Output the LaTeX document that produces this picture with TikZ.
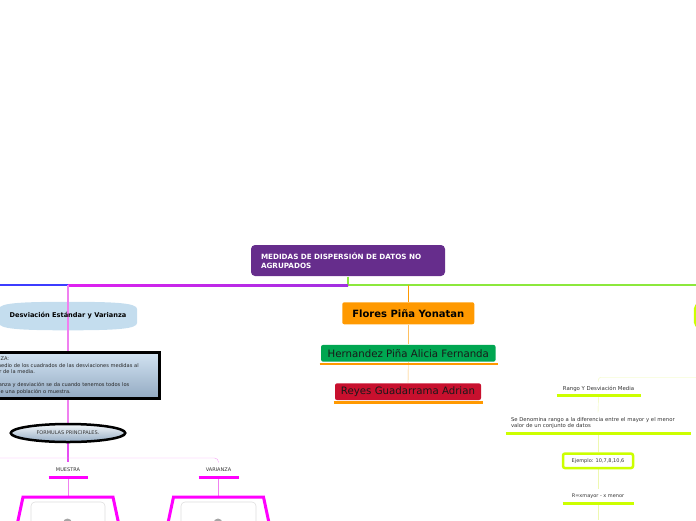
\documentclass[tikz,border=0pt]{standalone}
\usepackage{fontspec}
\setmainfont{DejaVu Sans}
\usetikzlibrary{shapes.geometric}
\usetikzlibrary{backgrounds}

\definecolor{rootpurple}{HTML}{662D8C}
\definecolor{lineblue}{HTML}{3C3CFF}
\definecolor{linemag}{HTML}{E020F0}
\definecolor{linepurple}{HTML}{A030E0}
\definecolor{linepink}{HTML}{F080F0}
\definecolor{lightpink}{HTML}{F4A0F4}
\definecolor{hotmag}{HTML}{FF00FF}
\definecolor{linegreen}{HTML}{8CE83C}
\definecolor{florange}{HTML}{FF9900}
\definecolor{paleorange}{HTML}{FFC060}
\definecolor{hergreen}{HTML}{00A651}
\definecolor{reyred}{HTML}{C8102E}
\definecolor{ygreen}{HTML}{CCFF00}
\definecolor{paleyg}{HTML}{EEF8B0}
\definecolor{desvblue}{HTML}{C4DDEE}
\definecolor{notetop}{HTML}{D2E3F2}
\definecolor{notebot}{HTML}{93AAC2}
\definecolor{txtgray}{HTML}{333333}

\begin{document}
\begin{tikzpicture}
[x=1pt,y=-1pt,line width=1pt,
 lbl/.style={font=\fontsize{5}{6}\selectfont,text=txtgray,inner sep=0pt},
 namebox/.style={rounded corners=2pt,inner sep=0pt,font=\fontsize{10.2}{12}\selectfont},
 uline/.style={line width=3pt},
 trap/.style={hotmag,line width=3pt}]

\useasboundingbox (0,0) rectangle (696,520);

% central topic
\node[fill=rootpurple,rounded corners=4pt,text=white,font=\bfseries\fontsize{7.2}{8.5}\selectfont,
  align=left,text width=174pt,inner xsep=10pt,inner ysep=0pt,minimum height=31pt] (root) at (348,260.5)
  {MEDIDAS DE DISPERSIÓN DE DATOS NO\\AGRUPADOS};

\coordinate (lend) at (0,285);
\coordinate (lbend) at (68,285);
\coordinate (rend) at (696,285);

% left branch
\node[font=\bfseries\fontsize{6.6}{8}\selectfont,minimum width=138pt,minimum height=24pt,inner sep=0pt] (desv) at (68,316)
  {Desviación Estándar y Varianza};
\node[draw=black,line width=3pt,top color=notetop,bottom color=notebot,minimum width=183pt,minimum height=46pt,
  text width=173pt,align=left,inner xsep=5pt,inner ysep=0pt,font=\fontsize{5.1}{6.5}\selectfont,text=black!85] (nota) at (68,375.5)
  {VARIANZA:\\El promedio de los cuadrados de las desviaciones medidas al\\rededor de la media.\\[6.5pt]La varianza y desviación se da cuando tenemos todos los\\datos de una población o muestra.};
\node[ellipse,draw=black,line width=2.5pt,top color=white!85!desvblue,bottom color=notebot,minimum width=114.5pt,minimum height=18pt,
  inner sep=0pt,font=\fontsize{5}{6}\selectfont,text=txtgray] (formulas) at (68,433) {FORMULAS PRINCIPALES.};
\node[lbl,minimum width=38pt,minimum height=15pt] (muestra) at (68,469.5) {MUESTRA};
\node[lbl,minimum width=39pt,minimum height=15pt] (varianza) at (218.5,469.5) {VARIANZA};
\coordinate (fleft) at (0,458);
\coordinate (tm) at (68,497);
\coordinate (tv) at (218.5,497);

% center branch
\node[namebox,fill=florange,font=\bfseries\fontsize{10}{12}\selectfont,minimum width=132pt,minimum height=22pt] (flores) at (408.3,313.3) {Flores Piña Yonatan};
\node[namebox,fill=hergreen,text=black!90,minimum width=174.5pt,minimum height=16.7pt] (hernandez) at (408.3,353.3) {Hernandez Piña Alicia Fernanda};
\node[namebox,fill=reyred,text=black!90,minimum width=146pt,minimum height=16.7pt] (reyes) at (408,391.7) {Reyes Guadarrama Adrian};

% right branch
\node[draw=ygreen,line width=2.5pt,rounded corners=5pt,minimum width=100pt,minimum height=23pt] (rtopic) at (745,315.5) {};
\coordinate (rend2) at (696,377.5);
\node[lbl,font=\fontsize{5.4}{6.5}\selectfont,minimum width=83pt,minimum height=13pt] (rango) at (598.5,388.5) {Rango Y Desviación Media};
\node[lbl,font=\fontsize{5.3}{6.4}\selectfont,text width=174pt,align=left,minimum height=20pt,inner xsep=5pt] (defi) at (598,423.2)
  {Se Denomina rango a la diferencia entre el mayor y el menor\\valor de un conjunto de datos};
\node[lbl,draw=ygreen,line width=2.5pt,rounded corners=2pt,minimum width=70pt,minimum height=14.5pt] (ejemplo) at (598,460.8) {Ejemplo: 10,7,8,10,6};
\node[lbl,minimum width=70pt,minimum height=14pt] (rform) at (598,496.3) {R=xmayor - x menor};
\coordinate (rbottom) at (598,520);

\begin{scope}[on background layer]
\fill[desvblue] (-1,309) .. controls (-1,303) and (20,301.8) .. (68,301.8) .. controls (116,301.8) and (137,303) .. (137,309)
  -- (137,323) .. controls (137,329) and (116,330.3) .. (68,330.3) .. controls (20,330.3) and (-1,329) .. (-1,323) -- cycle; %lens
\draw[linegreen,line width=2pt] (root.south) |- (rend); %green main
\draw[lineblue,line width=2pt] (lend) -- (lbend);
\shade[left color=linemag,right color=linepurple] ([yshift=1pt]lbend) rectangle ([yshift=-1pt]root.south |- lbend);
\draw[linepink,line width=2pt] (lbend) -- (desv.north |- desv.south);
\draw[linepink,line width=1.5pt] (desv.south) -- (desv.south |- nota.north);
\draw[linepink,line width=1.5pt] (formulas.north |- nota.south) -- (formulas.north);
\draw[linemag!80,line width=1.2pt] (formulas.south) -- (muestra.north);
\draw[lightpink,rounded corners=4pt] (fleft) -| (varianza.north);
\draw[linepink] (muestra.south) -- (tm);
\draw[linepink] (varianza.south) -- (tv);
\draw[florange] (flores.north |- lbend) -- (flores.north);
\draw[paleorange] (flores.south) -- (hernandez.north);
\draw[paleorange] (hernandez.south) -- (reyes.north);
\draw[paleyg,rounded corners=2pt] (rend2) -| (rango.north);
\draw[paleyg] (rango.south) -- (defi.north);
\draw[paleyg] (defi.south) -- (ejemplo.north);
\draw[paleyg] (ejemplo.south) -- (rform.north);
\draw[paleyg] (rform.south) -- (rbottom);
\end{scope}

% underlines
\draw[uline,hotmag] (muestra.south west) -- (muestra.south east);
\draw[uline,hotmag] (varianza.south west) -- (varianza.south east);
\draw[uline,florange,line width=2.5pt] ([xshift=-1pt,yshift=-2pt]hernandez.south west) -- ([xshift=1.5pt,yshift=-2pt]hernandez.south east);
\draw[uline,florange,line width=2.5pt] ([xshift=-1pt,yshift=-2pt]reyes.south west) -- ([xshift=1.5pt,yshift=-2pt]reyes.south east);
\draw[uline,ygreen] (rango.south west) -- (rango.south east);
\draw[uline,ygreen] (defi.south west) -- (defi.south east);
\draw[uline,ygreen] (rform.south west) -- (rform.south east);

% formula boxes
\draw[black!13,line width=.6pt,rounded corners=4pt] (31,502) rectangle (105,540);
\fill[black!35] (67.5,523) circle (4.5);
\draw[trap] (tm) ++(-52,33) -- ++(7,-33) -- ++(90,0) -- ++(7,33); %muestra
\draw[black!13,line width=.6pt,rounded corners=4pt] (181,502) rectangle (256,540);
\fill[black!35] (218,523) circle (4.5);
\draw[trap] (tv) ++(-52,33) -- ++(7,-33) -- ++(90,0) -- ++(7,33); %varianza

\end{tikzpicture}
\end{document}
